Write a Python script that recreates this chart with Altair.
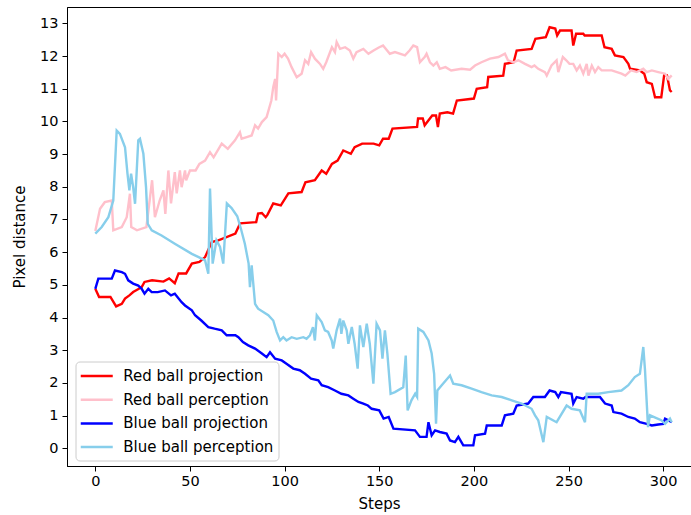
import altair as alt
import pandas as pd

# Series names and their line colours
SERIES = ["Red ball projection", "Red ball perception",
          "Blue ball projection", "Blue ball perception"]
COLORS = ["red", "pink", "blue", "skyblue"]

# Red ball projection
rp_steps = [0, 2, 8, 11, 14, 15.7, 18, 20, 24.5, 26, 30, 36, 39, 42, 44, 48, 51, 55, 58,
            61.5, 65, 74, 76.5, 85, 86, 88, 90, 91, 94, 98, 102, 109, 111, 116, 119.6,
            122, 125, 128, 131, 135, 137, 141, 147, 150, 152, 155, 157, 170, 170.5, 173,
            174, 178, 180, 181, 182, 186, 189, 191, 200, 201.5, 207, 207.6, 215.5, 216.4,
            221, 222.6, 230.5, 232.5, 238, 240, 243, 244, 245.5, 251.6, 252.5, 254, 257.8,
            258.5, 267.5, 269, 272.8, 274.5, 279, 281.6, 282.5, 287.7, 290, 291.3, 294,
            295.7, 299, 300.5, 302, 303.6, 304.5]
rp_vals = [4.88, 4.63, 4.63, 4.34, 4.42, 4.58, 4.68, 4.78, 4.93, 5.09, 5.14, 5.1, 5.2, 5.05,
           5.35, 5.35, 5.65, 5.7, 5.85, 6.31, 6.36, 6.57, 6.88, 6.92, 7.18, 7.2, 7.07, 7.15,
           7.49, 7.43, 7.8, 7.84, 8.14, 8.2, 8.5, 8.4, 8.7, 8.8, 9.11, 9.01, 9.21, 9.32, 9.32,
           9.27, 9.47, 9.47, 9.78, 9.83, 10.09, 10.09, 9.88, 10.18, 10.18, 9.83, 10.24, 10.28,
           10.24, 10.64, 10.7, 11.0, 11.05, 11.36, 11.4, 11.76, 11.81, 12.17, 12.22, 12.53,
           12.58, 12.88, 12.84, 12.63, 12.78, 12.78, 12.32, 12.68, 12.68, 12.63, 12.63, 12.27,
           12.22, 12.02, 11.97, 11.76, 11.61, 11.56, 11.46, 11.2, 11.15, 10.74, 10.74, 11.41,
           11.41, 10.95, 10.9]

# Red ball perception
rc_steps = [0, 2.5, 5, 8.7, 9.5, 14, 16.6, 18.3, 19, 22, 27, 30, 31.5, 34, 36, 37, 38.6, 40,
            42, 43, 44.7, 45.6, 47.4, 48, 50, 53, 55, 58, 60.6, 62.5, 66.8, 70, 73.8, 76.4,
            77.3, 80, 82.6, 84.4, 86, 88, 90.5, 93, 94, 95, 95.5, 96.7, 98.5, 100, 101.8,
            103.7, 106.4, 109, 110.8, 112.5, 114, 116, 118.7, 120.4, 122, 125, 126.6, 127.5,
            129.3, 132, 134.5, 136.3, 138, 141.6, 144.3, 147, 150, 152, 155.6, 158.3, 163.6,
            166, 168, 170, 171.5, 174, 175, 176.8, 178.6, 180.4, 182, 185, 188, 193.5, 198,
            200.6, 204, 208.5, 213, 216.4, 218, 220.8, 223.5, 227, 230.5, 232, 234, 237.5,
            238.5, 241, 243.7, 244.6, 247, 248.8, 250.5, 252.5, 254.3, 256, 257.8, 259.6,
            260.5, 262.3, 264, 265.7, 267.5, 272.8, 278, 280, 283, 286, 289.5, 291.3, 294,
            297.4, 301, 302.7, 304.5]
rc_vals = [6.65, 7.33, 7.53, 7.58, 6.67, 6.77, 7.07, 7.79, 6.77, 6.67, 6.77, 8.2, 7.07, 7.58,
           7.89, 7.17, 8.5, 7.49, 8.45, 7.8, 8.5, 7.99, 8.5, 8.2, 8.5, 8.5, 8.7, 8.8, 9.06,
           8.9, 9.32, 9.16, 9.42, 9.67, 9.47, 9.52, 9.57, 9.88, 9.78, 9.98, 10.13, 10.64,
           11.05, 11.3, 10.64, 12.07, 11.97, 12.07, 11.92, 11.66, 11.35, 11.46, 11.87, 11.76,
           12.12, 11.92, 11.76, 11.61, 11.81, 12.27, 12.12, 12.43, 12.22, 12.27, 12.17, 11.92,
           12.12, 12.22, 12.07, 12.17, 12.27, 12.32, 12.07, 12.12, 12.02, 12.17, 12.32, 12.27,
           11.81, 11.97, 12.07, 11.81, 11.71, 11.81, 11.61, 11.66, 11.56, 11.61, 11.58, 11.71,
           11.81, 11.92, 11.97, 12.07, 11.87, 11.81, 11.87, 11.76, 11.66, 11.71, 11.61, 11.51,
           11.4, 11.71, 11.87, 11.51, 11.97, 11.87, 11.76, 11.76, 11.56, 11.71, 11.46, 11.76,
           11.4, 11.71, 11.51, 11.66, 11.56, 11.56, 11.46, 11.4, 11.56, 11.51, 11.61, 11.51,
           11.56, 11.51, 11.46, 11.3, 11.41]

# Blue ball projection
bp_steps = [0, 1.6, 8.7, 10.4, 14, 15.7, 17.4, 20, 22.7, 24.5, 26, 28, 29.8, 33, 36.8, 40, 42,
            45.6, 47.4, 51, 52.7, 56, 59.7, 63, 66.8, 69.4, 74, 75.6, 78, 80.8, 84.4, 88,
            90.5, 92.3, 95, 98.5, 101, 104.6, 108, 110.8, 114, 117.8, 119.6, 123, 126.6, 130,
            133.7, 136.3, 139, 141.6, 144, 146, 150, 152.3, 155, 157.5, 168.9, 171.5, 175,
            176, 177.7, 179.5, 182, 185.6, 187.4, 190, 191.8, 194.4, 199.7, 200.6, 205.9,
            206.8, 214.7, 216.4, 220.8, 222.6, 228.7, 231.4, 237.5, 240, 243, 244.6, 246,
            251.6, 252.5, 254.3, 257.8, 259, 266.6, 269.3, 272.8, 273.7, 278, 281.6, 285,
            287.7, 291.3, 294, 297.4, 300, 301, 302.7, 304.5]
bp_vals = [4.88, 5.19, 5.19, 5.44, 5.39, 5.34, 5.14, 5.04, 4.98, 4.88, 4.73, 4.88, 4.78, 4.78,
           4.83, 4.68, 4.73, 4.47, 4.37, 4.22, 4.07, 3.91, 3.71, 3.66, 3.61, 3.46, 3.46, 3.4,
           3.25, 3.15, 3.05, 2.9, 2.79, 2.94, 2.74, 2.69, 2.59, 2.44, 2.39, 2.28, 2.13, 2.08,
           1.93, 1.87, 1.77, 1.67, 1.62, 1.52, 1.42, 1.37, 1.31, 1.21, 1.16, 0.91, 0.96, 0.6,
           0.55, 0.35, 0.35, 0.8, 0.4, 0.55, 0.5, 0.45, 0.24, 0.19, 0.35, 0.09, 0.09, 0.4,
           0.45, 0.7, 0.7, 1.01, 1.06, 1.31, 1.37, 1.57, 1.57, 1.77, 1.72, 1.57, 1.72, 1.67,
           1.37, 1.57, 1.52, 1.57, 1.57, 1.37, 1.31, 1.11, 1.06, 0.96, 0.91, 0.8, 0.75, 0.7,
           0.73, 0.75, 0.91, 0.86, 0.8]

# Blue ball perception
bc_steps = [0, 3.4, 6.9, 9.5, 11.3, 13, 15.7, 17, 18, 18.9, 20, 21, 22.7, 23.6, 25.4, 26.8,
            27.7, 29.8, 35, 42, 51, 54.6, 58, 59.7, 60.6, 62, 64, 65.9, 67.6, 69.5, 72, 75,
            77, 79, 81, 81.7, 82.6, 84.4, 86, 91.4, 94, 95.8, 97.6, 99.3, 101, 103.7, 106.4,
            109.9, 111.6, 113.4, 115, 116, 117, 119.6, 121.3, 123, 124.9, 125.7, 127.5, 129.3,
            130, 131, 132.8, 133.7, 135.5, 137, 138.6, 139.8, 141.6, 143.4, 145, 146.9, 148.6,
            150.4, 151.7, 153, 154.3, 156, 158.3, 162.7, 164, 165, 167, 169, 170, 170.6,
            173.3, 176, 177.7, 179, 180, 180.7, 183, 187.4, 189.1, 193.5, 198.8, 204, 209.4,
            214.7, 220, 225.2, 230.5, 232.3, 234, 236.7, 238.5, 243.7, 249, 251.6, 256,
            258.7, 259.6, 265.7, 271, 278, 281.6, 285, 287.7, 289.5, 290.4, 292, 293, 299,
            301, 303.6, 304.5]
bc_vals = [6.57, 6.77, 7.07, 7.58, 9.72, 9.62, 9.21, 8.4, 7.89, 8.4, 7.99, 7.48, 9.42, 9.47,
           9.01, 7.99, 6.87, 6.67, 6.51, 6.26, 5.95, 5.85, 5.75, 5.34, 7.95, 5.65, 6.36, 6.16,
           5.65, 7.49, 7.35, 7.1, 6.7, 6.26, 5.65, 4.93, 5.6, 4.42, 4.27, 4.07, 3.91, 3.56,
           3.3, 3.4, 3.3, 3.4, 3.35, 3.4, 3.35, 3.46, 3.71, 3.3, 4.07, 3.86, 3.61, 3.56, 3.3,
           3.05, 3.61, 3.97, 3.5, 3.91, 3.61, 3.2, 3.71, 3.2, 2.44, 3.76, 3.1, 3.81, 3.2, 1.98,
           3.81, 3.61, 2.74, 3.61, 2.9, 1.67, 1.72, 1.87, 2.84, 1.16, 1.47, 1.67, 1.57, 3.66,
           3.56, 3.3, 2.9, 2.28, 0.75, 1.77, 1.93, 2.23, 1.98, 1.93, 1.83, 1.72, 1.62, 1.57,
           1.47, 1.37, 1.21, 1.01, 0.86, 0.19, 0.96, 0.8, 1.31, 1.21, 1.16, 0.8, 1.67, 1.67,
           1.72, 1.77, 1.93, 2.18, 2.28, 3.1, 2.39, 0.65, 1.01, 0.86, 0.75, 0.91, 0.8]

X_TICKS = [0, 50, 100, 150, 200, 250, 300]
Y_TICKS = list(range(0, 14))

rows = []
for name, steps, vals in zip(SERIES,
                             [rp_steps, rc_steps, bp_steps, bc_steps],
                             [rp_vals, rc_vals, bp_vals, bc_vals]):
    for s, v in zip(steps, vals):
        rows.append({"series": name, "step": s, "distance": v})
df = pd.DataFrame(rows)

FONT = "DejaVu Sans"

color = alt.Color(
    "series:N",
    scale=alt.Scale(domain=SERIES, range=COLORS),
    legend=alt.Legend(
        title=None,
        orient="none",
        legendX=8.5,
        legendY=354.5,
        direction="vertical",
        symbolType="M-2,0H2",
        symbolSize=256,
        symbolStrokeWidth=2.5,
        symbolOffset=6.75,
        labelOffset=17,
        labelFont=FONT,
        labelFontSize=15,
        labelColor="black",
        rowPadding=5.7,
        padding=5,
        fillColor="rgba(255,255,255,0.8)",
        strokeColor="#cccccc",
        cornerRadius=4,
    ),
)

x = alt.X(
    "step:Q",
    scale=alt.Scale(domain=[-14.95, 314.7], nice=False, zero=False),
    axis=alt.Axis(values=X_TICKS, title="Steps", grid=False, tickSize=5,
                  labelPadding=3, titlePadding=9, format="d"),
)
y = alt.Y(
    "distance:Q",
    scale=alt.Scale(domain=[-0.54, 13.5], nice=False, zero=False),
    axis=alt.Axis(values=Y_TICKS, title="Pixel distance", grid=False, tickSize=5,
                  labelPadding=4, titlePadding=12, format="d"),
)

layers = []
for name in SERIES:
    layers.append(
        alt.Chart(df)
        .transform_filter(alt.datum.series == name)
        .mark_line(strokeWidth=2.4, clip=True)
        .encode(x=x, y=y, color=color, order="step:Q")
    )

chart = (
    alt.layer(*layers)
    .properties(
        width=624,
        height=459,
        autosize=alt.AutoSizeParams(type="none"),
        padding={"left": 67, "top": 7, "right": 0, "bottom": 49},
        background="white",
    )
    .configure_view(stroke="black", strokeWidth=1)
    .configure_axis(
        domainColor="black",
        tickColor="black",
        labelColor="black",
        titleColor="black",
        labelFont=FONT,
        titleFont=FONT,
        labelFontSize=14.5,
        titleFontSize=15,
        titleFontWeight="normal",
    )
)

chart.save("out.html", embed_options={"renderer": "svg", "actions": False})
